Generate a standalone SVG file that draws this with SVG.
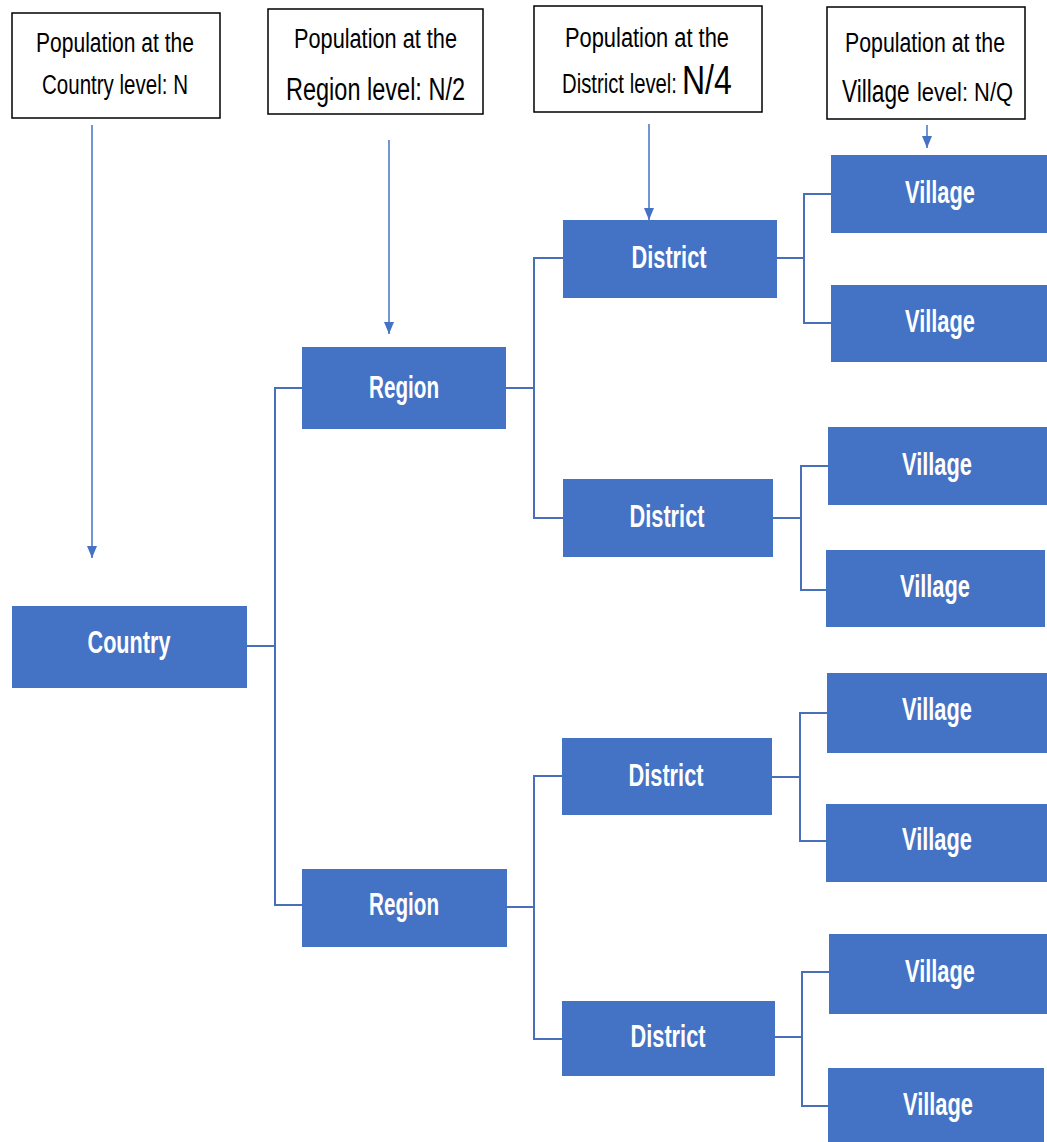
<svg xmlns="http://www.w3.org/2000/svg" width="1047" height="1142" viewBox="0 0 1047 1142">
<style>
.lbl{fill:#ffffff;stroke:#000000;stroke-width:1.5}
.lt{font-family:"Liberation Sans",Arial,sans-serif;fill:#000000}
.node{fill:#4472C4}
.nt{font-family:"Liberation Sans",Arial,sans-serif;font-weight:bold;font-size:32px;fill:#ffffff;text-anchor:middle}
.conn{fill:none;stroke:#4A6FBA;stroke-width:2}
.arr{fill:none;stroke:#4472C4;stroke-width:1.5}
</style>
<defs>
<marker id="tip" markerUnits="userSpaceOnUse" markerWidth="12" markerHeight="12" refX="12" refY="6" orient="auto" viewBox="0 0 12 12">
<path d="M0,1 L12,6 L0,11 Z" fill="#4472C4"/>
</marker>
</defs>
<g id="level-labels">
<g id="label-country">
<rect class="lbl" x="12" y="13" width="208" height="105"/>
<text class="lt" x="36" y="52" font-size="27" textLength="158" lengthAdjust="spacingAndGlyphs">Population at the</text>
<text class="lt" x="42" y="94" font-size="27" textLength="146" lengthAdjust="spacingAndGlyphs">Country level: N</text>
</g>
<g id="label-region">
<rect class="lbl" x="268" y="9" width="215" height="105"/>
<text class="lt" x="294" y="48" font-size="27" textLength="163" lengthAdjust="spacingAndGlyphs">Population at the</text>
<text class="lt" x="286" y="100" font-size="31" textLength="179" lengthAdjust="spacingAndGlyphs">Region level: N/2</text>
</g>
<g id="label-district">
<rect class="lbl" x="534" y="6" width="228" height="106"/>
<text class="lt" x="565" y="47" font-size="27" textLength="164" lengthAdjust="spacingAndGlyphs">Population at the</text>
<text class="lt" font-size="27" transform="translate(562,93) scale(0.752,1)">District level:</text>
<text class="lt" font-size="40" transform="translate(682,94) scale(0.8,1)">N/4</text>
</g>
<g id="label-village">
<rect class="lbl" x="827" y="7" width="198" height="112"/>
<text class="lt" x="845" y="52" font-size="27" textLength="160" lengthAdjust="spacingAndGlyphs">Population at the</text>
<text class="lt" font-size="32" transform="translate(842,102) scale(0.708,1)">Village</text>
<text class="lt" font-size="25" transform="translate(917,101) scale(0.875,1)">level: N/Q</text>
</g>
</g>
<g id="connectors">
<line class="arr" x1="92" y1="125" x2="92" y2="558" marker-end="url(#tip)"/>
<line class="arr" x1="389" y1="140" x2="389" y2="334" marker-end="url(#tip)"/>
<line class="arr" x1="649" y1="124" x2="649" y2="220" marker-end="url(#tip)"/>
<line class="arr" x1="927" y1="125" x2="927" y2="148" marker-end="url(#tip)"/>
<path class="conn" d="M247,646 H275"/>
<path class="conn" d="M302,388 H275 V905 H302"/>
<path class="conn" d="M506,388 H534"/>
<path class="conn" d="M563,258 H534 V518 H563"/>
<path class="conn" d="M507,907 H534"/>
<path class="conn" d="M563,776 H534 V1039 H563"/>
<path class="conn" d="M777,258 H804"/>
<path class="conn" d="M831,194 H804 V323 H831"/>
<path class="conn" d="M773,518 H801"/>
<path class="conn" d="M828,466 H801 V590 H826"/>
<path class="conn" d="M772,777 H800"/>
<path class="conn" d="M827,713 H800 V841 H826"/>
<path class="conn" d="M775,1037 H802"/>
<path class="conn" d="M829,972 H802 V1106 H828"/>
</g>
<g id="country">
<rect class="node" x="12" y="606" width="235" height="82"/>
<text class="nt" x="129" y="653" textLength="83" lengthAdjust="spacingAndGlyphs">Country</text>
</g>
<g id="region-1">
<rect class="node" x="302" y="347" width="204" height="82"/>
<text class="nt" x="404" y="398" textLength="70" lengthAdjust="spacingAndGlyphs">Region</text>
</g>
<g id="region-2">
<rect class="node" x="302" y="869" width="205" height="78"/>
<text class="nt" x="404" y="915" textLength="70" lengthAdjust="spacingAndGlyphs">Region</text>
</g>
<g id="district-1">
<rect class="node" x="563" y="220" width="214" height="78"/>
<text class="nt" x="669" y="268" textLength="75" lengthAdjust="spacingAndGlyphs">District</text>
</g>
<g id="district-2">
<rect class="node" x="563" y="479" width="210" height="78"/>
<text class="nt" x="667" y="527" textLength="75" lengthAdjust="spacingAndGlyphs">District</text>
</g>
<g id="district-3">
<rect class="node" x="562" y="738" width="210" height="77"/>
<text class="nt" x="666" y="786" textLength="75" lengthAdjust="spacingAndGlyphs">District</text>
</g>
<g id="district-4">
<rect class="node" x="562" y="1001" width="213" height="75"/>
<text class="nt" x="668" y="1047" textLength="75" lengthAdjust="spacingAndGlyphs">District</text>
</g>
<g id="village-1">
<rect class="node" x="831" y="155" width="216" height="78"/>
<text class="nt" x="940" y="203" textLength="70" lengthAdjust="spacingAndGlyphs">Village</text>
</g>
<g id="village-2">
<rect class="node" x="831" y="285" width="216" height="77"/>
<text class="nt" x="940" y="332" textLength="70" lengthAdjust="spacingAndGlyphs">Village</text>
</g>
<g id="village-3">
<rect class="node" x="828" y="427" width="219" height="78"/>
<text class="nt" x="937" y="475" textLength="70" lengthAdjust="spacingAndGlyphs">Village</text>
</g>
<g id="village-4">
<rect class="node" x="826" y="550" width="219" height="77"/>
<text class="nt" x="935" y="597" textLength="70" lengthAdjust="spacingAndGlyphs">Village</text>
</g>
<g id="village-5">
<rect class="node" x="827" y="673" width="220" height="80"/>
<text class="nt" x="937" y="720" textLength="70" lengthAdjust="spacingAndGlyphs">Village</text>
</g>
<g id="village-6">
<rect class="node" x="826" y="804" width="221" height="78"/>
<text class="nt" x="937" y="850" textLength="70" lengthAdjust="spacingAndGlyphs">Village</text>
</g>
<g id="village-7">
<rect class="node" x="829" y="934" width="218" height="80"/>
<text class="nt" x="940" y="982" textLength="70" lengthAdjust="spacingAndGlyphs">Village</text>
</g>
<g id="village-8">
<rect class="node" x="828" y="1068" width="216" height="74"/>
<text class="nt" x="938" y="1115" textLength="70" lengthAdjust="spacingAndGlyphs">Village</text>
</g>
</svg>
